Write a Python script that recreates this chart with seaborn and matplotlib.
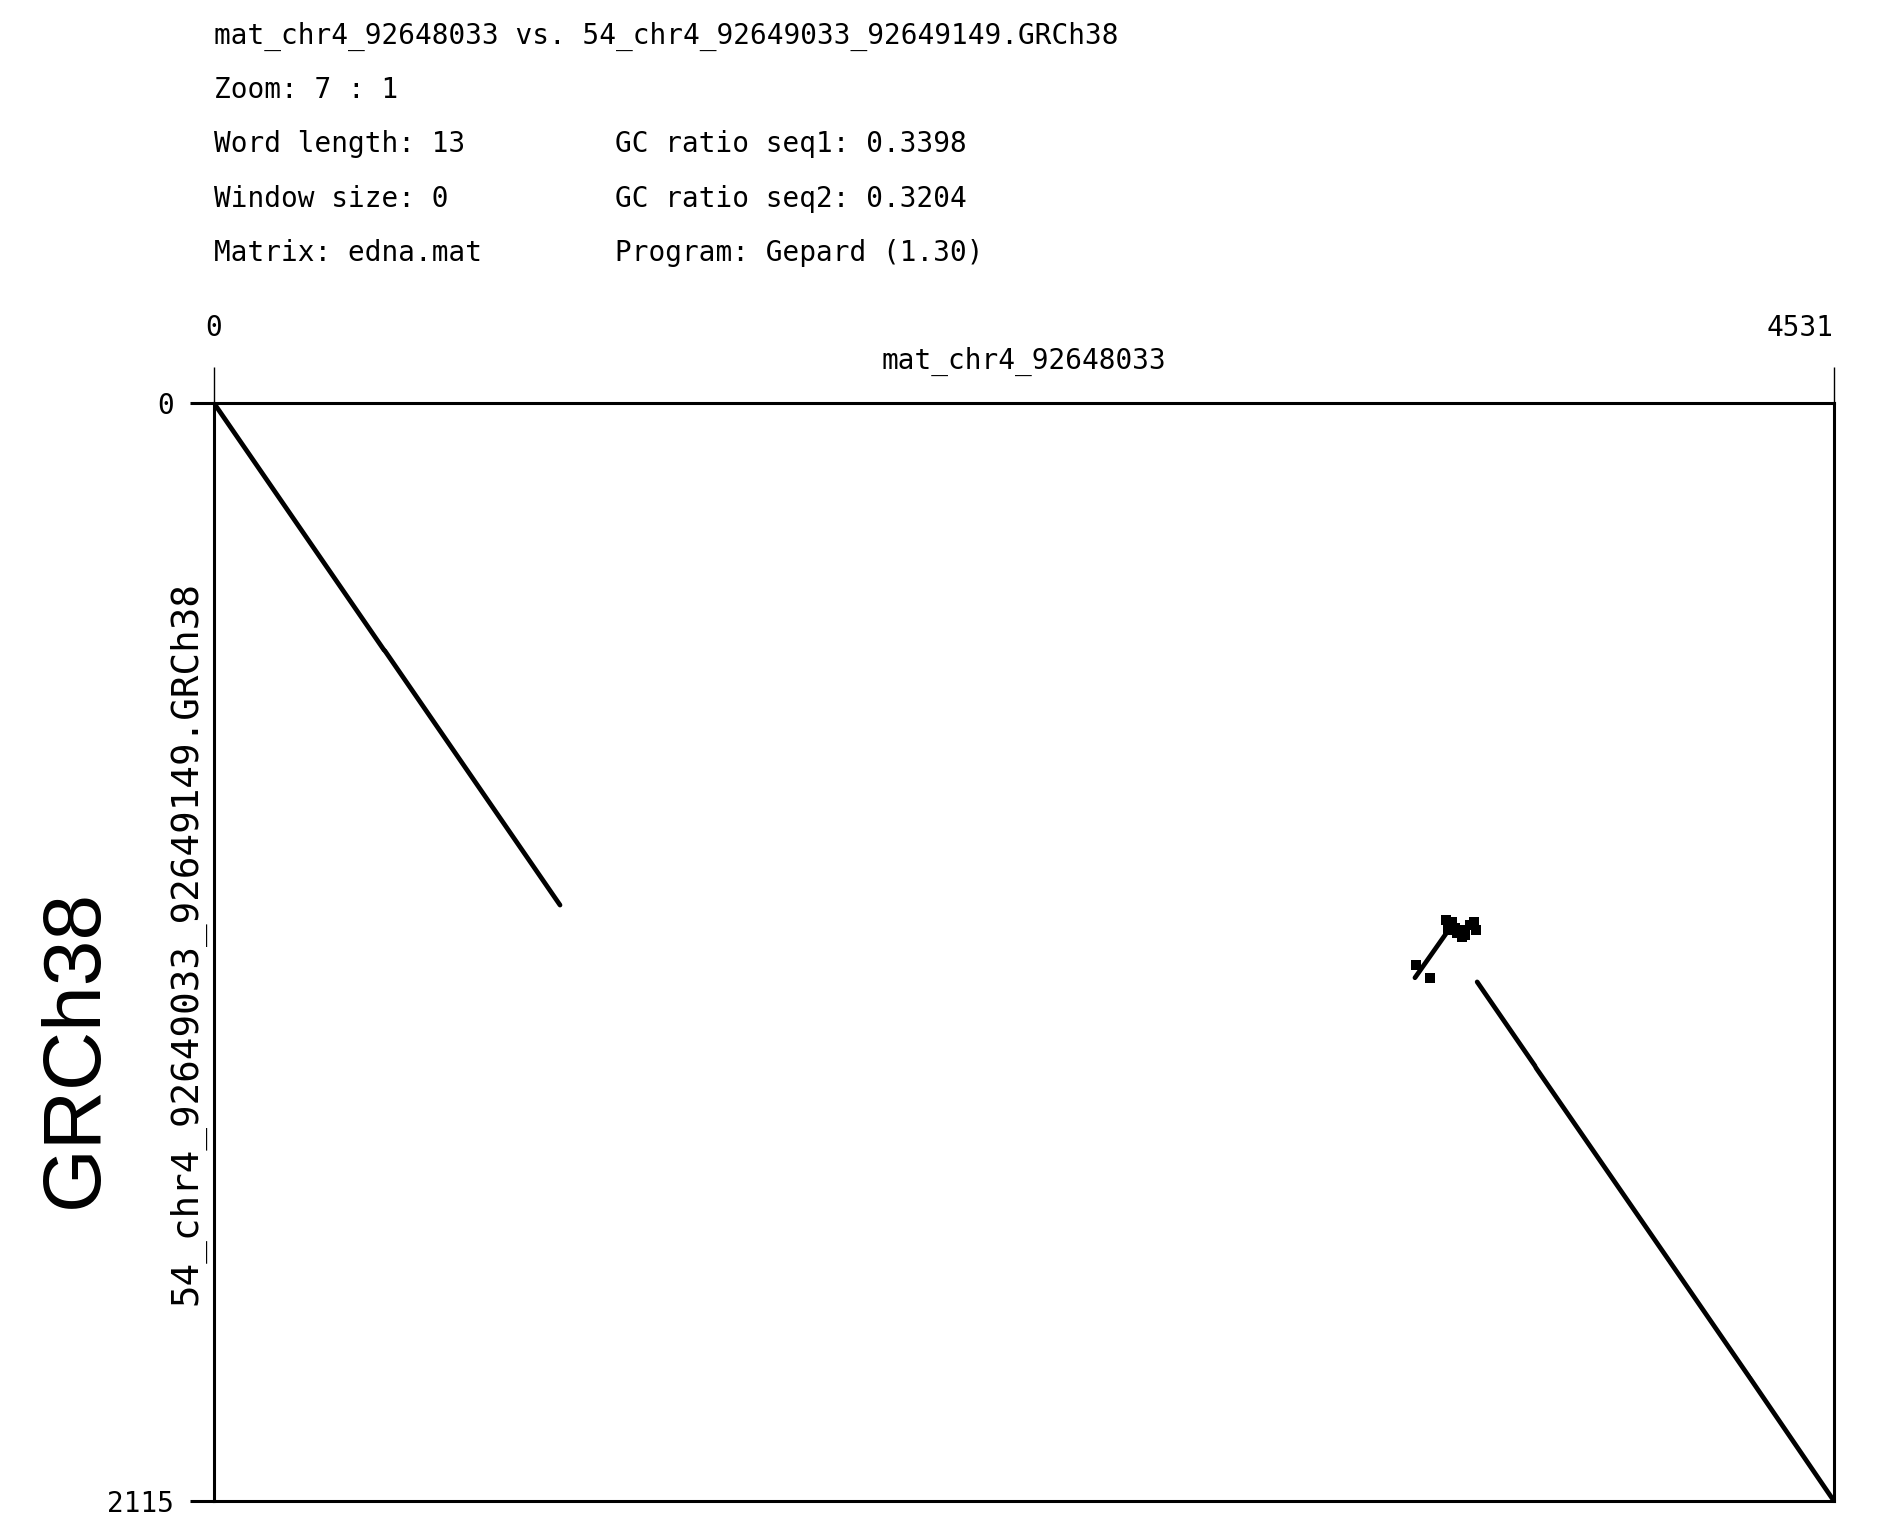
import pandas as pd
import matplotlib
matplotlib.use('Agg')
import matplotlib.pyplot as plt
import seaborn as sns

# sequence lengths
len_seq1 = 4531
len_seq2 = 2115

header_left = ['mat_chr4_92648033 vs. 54_chr4_92649033_92649149.GRCh38',
               'Zoom: 7 : 1',
               'Word length: 13',
               'Window size: 0',
               'Matrix: edna.mat']
header_right = ['', '', 'GC ratio seq1: 0.3398', 'GC ratio seq2: 0.3204',
                'Program: Gepard (1.30)']
xname = 'mat_chr4_92648033'
yname = '54_chr4_92649033_92649149.GRCh38'
big_label = 'GRCh38'

# forward diagonal hits (x on seq1, y on seq2), small breaks between pieces
seg_x0 = [0, 478, 3533, 3697, 4072, 4295]
seg_x1 = [476, 968, 3695, 4070, 4293, 4531]
seg_y0 = [0, 477, 1115, 1280, 1654, 1877]
seg_y1 = [476, 967, 1277, 1652, 1875, 2115]

# reverse piece near the second block
rev_x = [3359, 3449]
rev_y = [1107, 1019]

# scattered dots of the small cluster
dot_x = [3446, 3457, 3452, 3471, 3485, 3499, 3513, 3524, 3530, 3491, 3362, 3401, 3462, 3478]
dot_y = [996, 1005, 1015, 1011, 1015, 1025, 1005, 999, 1015, 1028, 1082, 1107, 1000, 1020]

rows = []
for i in range(len(seg_x0)):
    rows.append({'seg': i, 'x': seg_x0[i], 'y': seg_y0[i]})
    rows.append({'seg': i, 'x': seg_x1[i], 'y': seg_y1[i]})
for j in range(2):
    rows.append({'seg': 99, 'x': rev_x[j], 'y': rev_y[j]})
lines = pd.DataFrame(rows)
dots = pd.DataFrame({'x': dot_x, 'y': dot_y})

sns.set_style('white')
mono = 'DejaVu Sans Mono'
plt.rcParams['text.color'] = 'black'

fig = plt.figure(figsize=(18.88, 15.32), dpi=100)
ax = fig.add_axes([0.1133, 0.0202, 0.8581, 0.7167])

sns.lineplot(data=lines, x='x', y='y', units='seg', estimator=None, sort=False,
             color='black', lw=3.4, ax=ax)
sns.scatterplot(data=dots, x='x', y='y', marker='s', s=55, color='black',
                edgecolor='none', ax=ax)

ax.set_xlim(0, len_seq1)
ax.set_ylim(len_seq2, 0)
for s in ax.spines.values():
    s.set_color('black')
    s.set_linewidth(2.2)

ax.xaxis.tick_top()
ax.set_xticks([0, len_seq1])
ax.set_xticklabels(['0', str(len_seq1)], family=mono, fontsize=20, color='black')
ax.get_xticklabels()[0].set_ha('center')
ax.get_xticklabels()[1].set_ha('right')
ax.tick_params(axis='x', top=True, bottom=False, direction='out', length=26,
               width=1, pad=18, colors='black')
ax.set_yticks([0, len_seq2])
ax.set_yticklabels(['0', str(len_seq2)], family=mono, fontsize=20, color='black')
ax.tick_params(axis='y', left=True, direction='out', length=17, width=2.2,
               pad=12, colors='black')
ax.set_xlabel('')
ax.set_ylabel('')

ax.text(0.5, 1.038, xname, transform=ax.transAxes, ha='center', va='center',
        family=mono, fontsize=20, color='black')
ax.text(-0.0165, 0.508, yname, transform=ax.transAxes, rotation=90,
        ha='center', va='center', family=mono, fontsize=27, color='black')
fig.text(76 / 1888, 1 - 1048 / 1532, big_label, rotation=90, ha='center',
         va='center', family='Liberation Sans', fontsize=59, color='black')

ys = [36, 90, 144, 199, 253]
for k in range(5):
    fig.text(214 / 1888, 1 - ys[k] / 1532, header_left[k], ha='left', va='center',
             family=mono, fontsize=20, color='black')
    if header_right[k]:
        fig.text(615 / 1888, 1 - ys[k] / 1532, header_right[k], ha='left',
                 va='center', family=mono, fontsize=20, color='black')

fig.savefig('out.png', dpi=100, facecolor='white')
